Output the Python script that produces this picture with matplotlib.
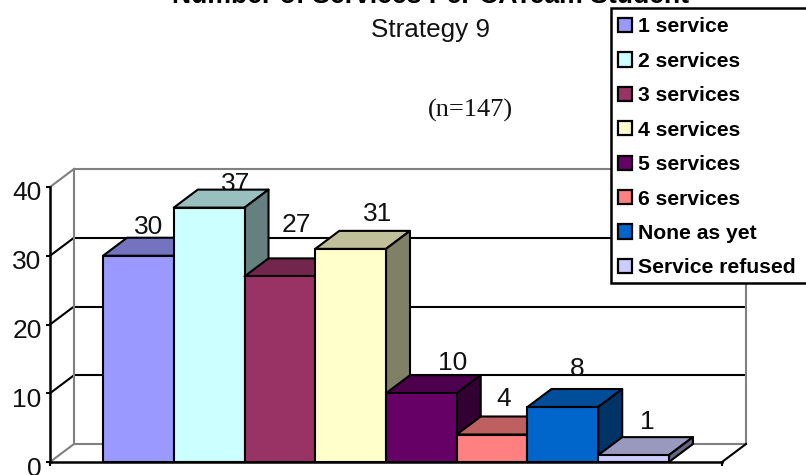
import matplotlib
matplotlib.use("Agg")
import matplotlib.pyplot as plt
from matplotlib.patches import Polygon, Patch, Rectangle
from matplotlib.colors import to_rgb
from matplotlib.transforms import ScaledTranslation

W, H = 806, 475
plt.rcParams['font.family'] = ['Liberation Sans', 'DejaVu Sans']

categories = ['1 service', '2 services', '3 services', '4 services',
              '5 services', '6 services', 'None as yet', 'Service refused']
values = [30, 37, 27, 31, 10, 4, 8, 1]
colors = ['#9999FF', '#CCFFFF', '#993366', '#FFFFCC',
          '#660066', '#FF8080', '#0066CC', '#CCCCFF']
yticks = [0, 10, 20, 30, 40]
# label offsets from the bar's front-top centre (pixels)
label_dx = [10, 27, 16, 27, 31, 12, 14, 14]
label_dy = [29, 24, 51, 35, 30, 35, 38, 33]

fig = plt.figure(figsize=(W / 100, H / 100), dpi=100, facecolor='white')
L, R, T, B = 50, 722, 187, 462
ax = fig.add_axes([L / W, 1 - B / H, (R - L) / W, (B - T) / H])
ax.set_xlim(-0.75, 8.75)
ax.set_ylim(0, 40)
ax.patch.set_alpha(0)

px_x = (R - L) / 9.5
px_y = (B - T) / 40
DX, DY = 24 / px_x, 18 / px_y
x0, x1 = -0.75, 8.75
GRAY, LW = '#808080', 1.5

# back wall and left wall
for v in yticks:
    c = GRAY if v in (0, 40) else 'black'
    ax.plot([x0 + DX, x1 + DX], [v + DY, v + DY], color=c, lw=LW, zorder=1,
            clip_on=False, solid_capstyle='butt')
    ax.plot([x0, x0 + DX], [v, v + DY], color=c, lw=LW, zorder=1, clip_on=False)
ax.plot([x0 + DX, x0 + DX], [DY, 40 + DY], color=GRAY, lw=LW, zorder=1, clip_on=False)
ax.plot([x1 + DX, x1 + DX], [DY, 40 + DY], color=GRAY, lw=LW, zorder=1, clip_on=False)
ax.plot([x1, x1 + DX], [0, DY], color='black', lw=LW, zorder=1, clip_on=False)

# data labels sit behind the bars
for i, v in enumerate(values):
    ax.annotate(str(v), (i + 0.5, v), xytext=(label_dx[i] * 0.72, label_dy[i] * 0.72),
                textcoords='offset points', ha='center', va='center',
                fontsize=19, color='#111111', zorder=2, annotation_clip=False)


def shade(col, k):
    return tuple(k * c for c in to_rgb(col))


# bars painted left to right
for i, (v, col) in enumerate(zip(values, colors)):
    z = 3 + i
    ax.add_patch(Polygon([(i, v), (i + DX, v + DY), (i + 1 + DX, v + DY), (i + 1, v)],
                         closed=True, fc=shade(col, 0.75), ec='black', lw=LW, zorder=z,
                         clip_on=False, joinstyle='round'))
    ax.add_patch(Polygon([(i + 1, 0), (i + 1 + DX, DY), (i + 1 + DX, v + DY), (i + 1, v)],
                         closed=True, fc=shade(col, 0.5), ec='black', lw=LW, zorder=z,
                         clip_on=False, joinstyle='round'))
    ax.bar(i, v, width=1, align='edge', color=col, edgecolor='black', linewidth=LW,
           zorder=z, clip_on=False)

for s in ('top', 'right'):
    ax.spines[s].set_visible(False)
for s in ('left', 'bottom'):
    ax.spines[s].set_linewidth(1.8)
    ax.spines[s].set_zorder(20)
ax.set_yticks(yticks)
ax.set_xticks([x0, x1])
ax.set_xticklabels([])
ax.tick_params(axis='y', length=3, width=1.5, labelsize=19, pad=3, labelcolor='#111111')
ax.tick_params(axis='x', length=3, width=1.5)
shift = ScaledTranslation(0, -4 / 100, fig.dpi_scale_trans)
for lab in ax.get_yticklabels():
    lab.set_transform(lab.get_transform() + shift)

# legend box
fig.add_artist(Rectangle((611 / W, 1 - 283 / H), 210 / W, 275.5 / H, transform=fig.transFigure,
                         fc='white', ec='black', lw=1.8, zorder=29))
handles = [Patch(fc=c, ec='black', lw=1.6) for c in colors]
leg = fig.legend(handles, categories, loc='upper left',
                 bbox_to_anchor=(611 / W, 1 - 10.5 / H), frameon=False,
                 borderaxespad=0, borderpad=0.33,
                 handlelength=0.65, handleheight=0.65, handletextpad=0.3,
                 labelspacing=0.73, prop={'weight': 'bold', 'size': 15.2})
leg.set_zorder(30)

fig.text(430 / W, 1 - 3 / H, 'Number of Services Per CATeam Student', ha='center',
         va='baseline', fontsize=19.2, fontweight='bold', color='black')
fig.text(430 / W, 1 - 30 / H, 'Strategy 9', ha='center', va='center', fontsize=18.8, color='#111111')
fig.text(470 / W, 1 - 110 / H, '(n=147)', ha='center', va='center', fontsize=19,
         family='Liberation Serif', color='#111111')

fig.savefig('out.png', dpi=100, facecolor='white')
